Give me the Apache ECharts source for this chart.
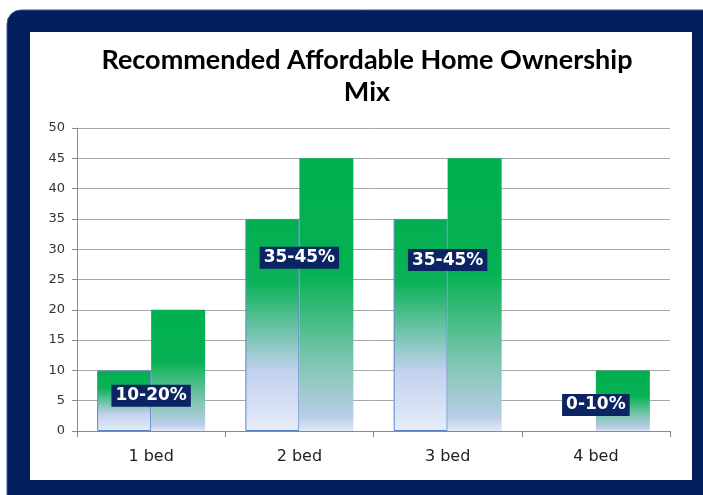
<!DOCTYPE html>
<html>
<head>
<meta charset="utf-8">
<script src="https://cdn.jsdelivr.net/npm/echarts@6/dist/echarts.min.js"></script>
<style>
  html, body { margin: 0; padding: 0; background: #ffffff; }
  #chart { width: 703px; height: 495px; }
</style>
</head>
<body>
<div id="chart"></div>
<script>
// Bedroom mix for affordable home ownership: lower and upper bound of each range (%)
const categories = ['1 bed', '2 bed', '3 bed', '4 bed'];
const lowerShare = [10, 35, 35, 0];
const upperShare = [20, 45, 45, 10];
const yTicks = { min: 0, max: 50, interval: 5 };

// Height (in axis units) at which each range tag sits
const tagLevel = [5.8, 28.6, 28.2, 4.3];

const chart = echarts.init(document.getElementById('chart'), null, { renderer: 'canvas' });

function barGradient(stops) {
  return new echarts.graphic.LinearGradient(0, 0, 0, 1,
    stops.map(([offset, color]) => ({ offset, color })));
}

const lowerFill = barGradient([
  [0, '#00b050'], [0.3, '#0cb257'], [0.72, '#c3d1ef'], [1, '#e6ecf8']
]);
const upperFill = barGradient([
  [0, '#00b050'], [0.42, '#05b152'], [0.75, '#7ec6b2'], [0.95, '#bacde8'], [1, '#e2e9f6']
]);

// Empty bars get no outline so nothing shows on the baseline
const lowerData = lowerShare.map(v => v === 0
  ? { value: v, itemStyle: { borderWidth: 0 } }
  : v);

const option = {
  animation: false,
  graphic: [
    {
      type: 'rect', z: -10, silent: true,
      shape: { x: 7, y: 10, width: 720, height: 510, r: 14 },
      style: { fill: '#03205e', stroke: '#3c5a96', lineWidth: 1 }
    },
    {
      type: 'rect', z: -9, silent: true,
      shape: { x: 30, y: 32, width: 662, height: 448 },
      style: { fill: '#ffffff' }
    },
    {
      type: 'text', z: 10, silent: true,
      x: 367, y: 44,
      style: {
        text: 'Recommended Affordable Home Ownership\nMix',
        fill: '#000000',
        font: 'bold 27px Lato, "Open Sans", sans-serif',
        align: 'center',
        verticalAlign: 'top',
        lineHeight: 32
      }
    }
  ],
  grid: { left: 77, right: 33, top: 128, bottom: 64, containLabel: false },
  xAxis: {
    type: 'category',
    data: categories,
    axisLine: { lineStyle: { color: '#8a8a8a', width: 1 } },
    axisTick: { show: true, length: 6, lineStyle: { color: '#8a8a8a' } },
    axisLabel: {
      color: '#222222', fontSize: 16, margin: 18,
      fontFamily: '"DejaVu Sans", sans-serif'
    }
  },
  yAxis: {
    type: 'value',
    min: yTicks.min, max: yTicks.max, interval: yTicks.interval,
    axisLine: { show: true, lineStyle: { color: '#8a8a8a', width: 1 } },
    axisTick: { show: true, length: 5, lineStyle: { color: '#8a8a8a' } },
    splitLine: { lineStyle: { color: '#a6a6a6', width: 1 } },
    axisLabel: {
      color: '#333333', fontSize: 13, margin: 12,
      fontFamily: '"DejaVu Sans", sans-serif'
    }
  },
  series: [
    {
      name: 'Lower bound',
      type: 'bar',
      data: lowerData,
      barWidth: 54,
      barGap: '0%',
      itemStyle: { color: lowerFill, borderColor: '#5b86c4', borderWidth: 1 }
    },
    {
      name: 'Upper bound',
      type: 'bar',
      data: upperShare,
      barWidth: 54,
      barGap: '0%',
      itemStyle: { color: upperFill, borderWidth: 0 }
    },
    {
      name: 'Range',
      type: 'scatter',
      z: 5,
      symbolSize: 0,
      silent: true,
      itemStyle: { opacity: 1 },
      data: categories.map((c, i) => [i, tagLevel[i]]),
      label: {
        show: true,
        position: 'inside',
        formatter: p => lowerShare[p.dataIndex] + '-' + upperShare[p.dataIndex] + '%',
        color: '#ffffff',
        backgroundColor: '#0b2462',
        fontFamily: '"DejaVu Sans", sans-serif',
        fontWeight: 'bold',
        fontSize: 17,
        padding: [3, 4, 2, 4],
        borderRadius: 0
      }
    }
  ]
};

chart.setOption(option);
</script>
</body>
</html>
